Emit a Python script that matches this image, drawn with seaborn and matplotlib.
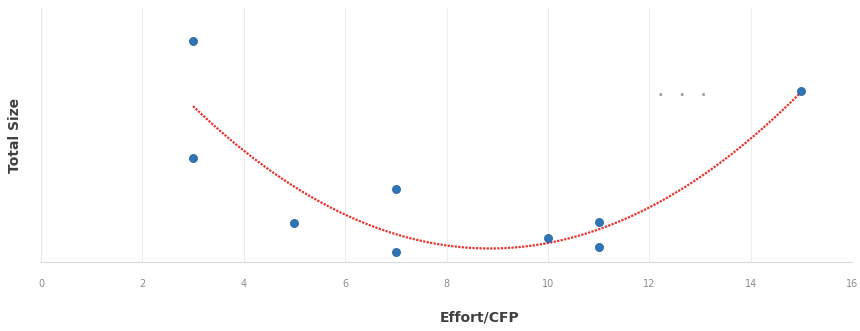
import matplotlib
matplotlib.use("Agg")
import matplotlib.pyplot as plt
import seaborn as sns
import pandas as pd

# data
effort_cfp = [3, 3, 5, 7, 7, 10, 11, 11, 15]
total_size = [22.1, 10.4, 3.9, 7.3, 1.0, 2.4, 4.0, 1.5, 17.1]
x_ticks = [0, 2, 4, 6, 8, 10, 12, 14, 16]

df = pd.DataFrame({"Effort/CFP": effort_cfp, "Total Size": total_size})

sns.set_style("white")
plt.rcParams["font.family"] = ["DejaVu Sans"]

fig = plt.figure(figsize=(8.6, 3.31), dpi=100)
ax = fig.add_axes([41 / 860, 69 / 331, (852 - 41) / 860, (262 - 8) / 331])

# quadratic trend line (Excel style dotted red)
sns.regplot(data=df, x="Effort/CFP", y="Total Size", order=2, ci=None,
            scatter=False, ax=ax,
            line_kws={"color": "#e8322e", "lw": 1.6, "ls": (0, (1, 0.6))})
sns.scatterplot(data=df, x="Effort/CFP", y="Total Size", ax=ax,
                color="#2e75b6", s=34, marker="o", edgecolor="#1f5f99",
                linewidth=0.5, zorder=3)

ax.set_xlim(0, 16)
ax.set_ylim(0, 25.4)
ax.set_xticks(x_ticks)
ax.set_xticklabels([str(t) for t in x_ticks], color="#8c8c8c", fontsize=7)
ax.set_yticks([])
ax.tick_params(axis="x", length=0, pad=12)
ax.grid(axis="x", color="#ededed", lw=0.8)

for side in ["top", "right"]:
    ax.spines[side].set_visible(False)
ax.spines["left"].set_color("#e6e6e6")
ax.spines["bottom"].set_color("#d9d9d9")

# faint remnant legend markers
ax.text(12.65, 16.6, "\u00b7   \u00b7   \u00b7", color="#a6a6a6", fontsize=11,
        ha="center", va="center", fontweight="bold")

ax.set_xlabel("Effort/CFP", fontsize=10, fontweight="bold", color="#404040",
              va="center")
ax.xaxis.set_label_coords(0.541, -0.22)
ax.set_ylabel("Total Size", fontsize=10, fontweight="bold", color="#404040",
              labelpad=14)

fig.savefig("out.png", dpi=100)
